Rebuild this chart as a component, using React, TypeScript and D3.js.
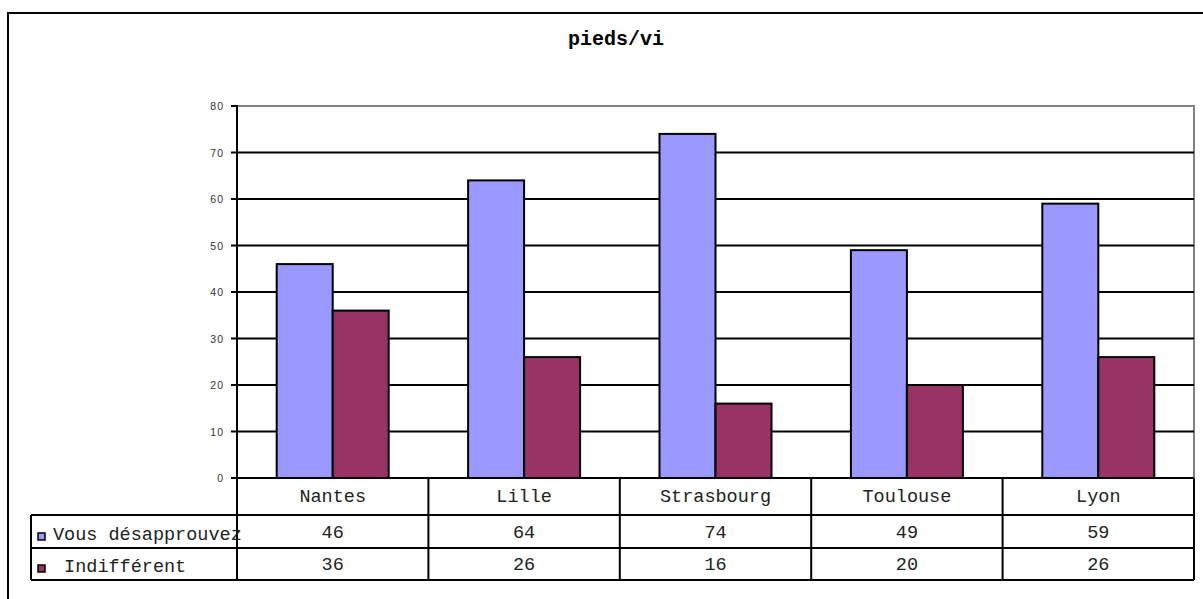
import React from "react";
import * as d3 from "d3";

const title = "pieds/vi";
const categories = ["Nantes", "Lille", "Strasbourg", "Toulouse", "Lyon"];
const seriesNames = ["Vous désapprouvez", " Indifférent"];
const vousDesapprouvez = [46, 64, 74, 49, 59];
const indifferent = [36, 26, 16, 20, 26];
const yTicks = [0, 10, 20, 30, 40, 50, 60, 70, 80];
const colors = ["#9999FF", "#993366"];

export default function App() {
  const W = 1203, H = 599;
  const left = 237, right = 1194, top = 106, bottom = 478;
  const x = d3.scaleBand<string>().domain(categories).range([left, right]).paddingInner(0).paddingOuter(0);
  const y = d3.scaleLinear().domain([0, 80]).range([bottom, top]);
  const bw = x.bandwidth();
  const barW = 56;
  const series = [vousDesapprouvez, indifferent];
  const rowTop = [478, 515, 548, 580];
  const tableLeft = 31;
  const mono = "'Courier New', 'Liberation Mono', monospace";
  const sans = "'Liberation Sans', Arial, sans-serif";
  const fs = 18.5;

  return (
    <svg width={W} height={H} style={{ position: "absolute", left: 0, top: 0, background: "#fff" }}>
      <rect x={8} y={13} width={1400} height={800} fill="#fff" stroke="#000" strokeWidth={2} />
      <text x={616} y={45} textAnchor="middle" fontFamily={mono} fontWeight="bold" fontSize={20}>{title}</text>

      {/* plot area frame */}
      <rect x={left} y={top} width={right - left} height={bottom - top} fill="none" stroke="#808080" strokeWidth={2} />
      {yTicks.filter((t) => t > 0 && t < 80).map((t) => (
        <line key={t} x1={left} x2={right} y1={y(t)} y2={y(t)} stroke="#000" strokeWidth={2} />
      ))}

      {categories.map((c, i) => {
        const cx = (x(c) as number) + bw / 2;
        return series.map((s, si) => {
          const bx = cx - barW + si * barW;
          return (
            <rect key={c + si} x={bx} y={y(s[i])} width={barW} height={bottom - y(s[i])}
              fill={colors[si]} stroke="#000" strokeWidth={2} />
          );
        });
      })}

      {/* y axis */}
      <line x1={left} x2={left} y1={top - 1} y2={bottom + 4} stroke="#000" strokeWidth={2} />
      {yTicks.map((t) => (
        <g key={t}>
          <line x1={left - 6} x2={left} y1={y(t)} y2={y(t)} stroke="#000" strokeWidth={2} />
          <text x={left - 13} y={y(t) + 4} textAnchor="end" fontFamily={sans} fontSize={10.5} letterSpacing={1} fill="#333">{t}</text>
        </g>
      ))}

      {/* data table */}
      <line x1={left} x2={right} y1={rowTop[0]} y2={rowTop[0]} stroke="#000" strokeWidth={2} />
      {[1, 2, 3].map((r) => (
        <line key={r} x1={tableLeft} x2={right} y1={rowTop[r]} y2={rowTop[r]} stroke="#000" strokeWidth={2} />
      ))}
      <line x1={tableLeft} x2={tableLeft} y1={rowTop[1]} y2={rowTop[3]} stroke="#000" strokeWidth={2} />
      <line x1={left} x2={left} y1={rowTop[0]} y2={rowTop[3]} stroke="#000" strokeWidth={2} />
      {categories.map((c) => (
        <line key={c} x1={(x(c) as number) + bw} x2={(x(c) as number) + bw} y1={rowTop[0]} y2={rowTop[3]} stroke="#000" strokeWidth={2} />
      ))}
      {categories.map((c, i) => {
        const cx = (x(c) as number) + bw / 2;
        return (
          <g key={c}>
            <text x={cx} y={502} textAnchor="middle" fontFamily={mono} fontSize={fs} fill="#222">{c}</text>
            <text x={cx} y={538} textAnchor="middle" fontFamily={mono} fontSize={fs} fill="#222">{vousDesapprouvez[i]}</text>
            <text x={cx} y={570} textAnchor="middle" fontFamily={mono} fontSize={fs} fill="#222">{indifferent[i]}</text>
          </g>
        );
      })}
      {seriesNames.map((n, si) => {
        const ry = si === 0 ? 533 : 565;
        return (
          <g key={n}>
            <rect x={38} y={ry} width={7} height={7} fill={colors[si]} stroke="#000" strokeWidth={1.5} />
            <text x={53} y={si === 0 ? 540 : 572} fontFamily={mono} fontSize={fs} fill="#222" style={{ whiteSpace: "pre" }}>{n}</text>
          </g>
        );
      })}
    </svg>
  );
}
